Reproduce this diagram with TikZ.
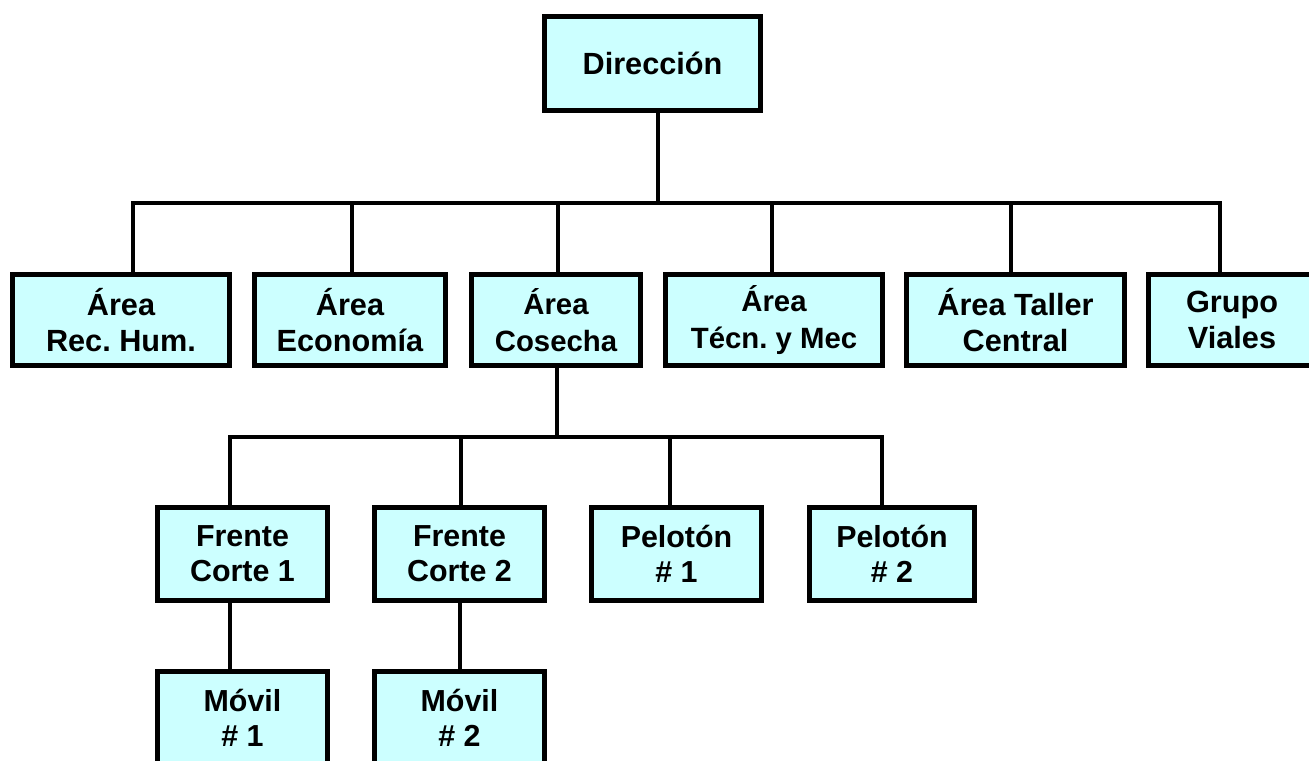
\documentclass[tikz,border=0pt]{standalone}
\usepackage{fontspec}
\setmainfont{Liberation Sans}
\usetikzlibrary{positioning, calc}
\definecolor{cBox}{RGB}{204,255,255}
\tikzset{
  orgbox/.style={rectangle, draw=black, fill=cBox, line width=3.75pt,
                 inner sep=0pt, align=center,
                 font=\bfseries\frenchspacing\fontsize{23}{27.5}\selectfont},
  orgtop/.style={orgbox, minimum width=162pt, minimum height=70.5pt},
  orgarea/.style={orgbox, minimum height=68.25pt},
  orgsmall/.style={font=\bfseries\frenchspacing\fontsize{22}{27.5}\selectfont},
  orgsub/.style={orgbox, minimum width=127.5pt, minimum height=69.75pt,
                 font=\bfseries\frenchspacing\fontsize{22.8}{26.3}\selectfont},
  orgline/.style={line width=3pt, black},
}

\begin{document}
\begin{tikzpicture}[x=0.75pt, y=-0.75pt]
  \clip (0,0) rectangle (1309,760);
  % Direccion
  \node[orgtop] (dir) at (652.5,63.5) {Dirección};
  % Areas
  \node[orgarea, minimum width=162.75pt] (rh) at (121,320) {Área\\Rec. Hum.};
  \node[orgarea, minimum width=143.25pt] (eco) at (350,320) {Área\\Economía};
  \node[orgarea, orgsmall, minimum width=126.75pt] (cos) at (556,320) {Área\\Cosecha};
  \node[orgarea, orgsmall, minimum width=162.75pt] (tec) at (774,320) {Área\\Técn. y Mec};
  \node[orgarea, minimum width=163.5pt] (tal) at (1015.5,320) {Área Taller\\Central};
  \node[orgarea, minimum width=125.25pt] (via) at (1232,320) {Grupo\\Viales};
  % Cosecha
  \node[orgsub] (fc1) at (242.5,554) {Frente\\Corte 1};
  \node[orgsub] (fc2) at (459.5,554) {Frente\\Corte 2};
  \node[orgsub] (p1) at (676.5,554) {Pelotón\\\# 1};
  \node[orgsub, minimum width=123.75pt] (p2) at (892,554) {Pelotón\\\# 2};
  % Moviles
  \node[orgsub] (m1) at (242.5,718) {Móvil\\\# 1};
  \node[orgsub] (m2) at (459.5,718) {Móvil\\\# 2};

  % Lineas
  \coordinate (busTop) at (0,203);
  \coordinate (busCos) at (0,437);
  \coordinate (dir-dn) at ($(dir.south)+(5.5,0)$);
  \draw[orgline] (dir-dn) -- (dir-dn |- busTop);
  \foreach \n/\dx in {rh/12, eco/2, cos/2, tec/-2, tal/-4.5, via/-12} {
    \coordinate (\n-up) at ($(\n.north)+(\dx,0)$);
    \draw[orgline] (\n-up) -- (\n-up |- busTop);
  }
  \draw[orgline, line cap=rect] (rh-up |- busTop) -- (via-up |- busTop);

  \coordinate (cos-dn) at ($(cos.south)+(1,0)$);
  \draw[orgline] (cos-dn) -- (cos-dn |- busCos);
  \foreach \n/\dx in {fc1/-12.5, fc2/1.5, p1/-6.5, p2/-10} {
    \coordinate (\n-up) at ($(\n.north)+(\dx,0)$);
    \draw[orgline] (\n-up) -- (\n-up |- busCos);
  }
  \draw[orgline, line cap=rect] (fc1-up |- busCos) -- (p2-up |- busCos);

  \draw[orgline] (fc1-up |- fc1.south) -- (fc1-up |- m1.north);
  \draw[orgline] (fc2.south) -- (m2.north);
\end{tikzpicture}
\end{document}
